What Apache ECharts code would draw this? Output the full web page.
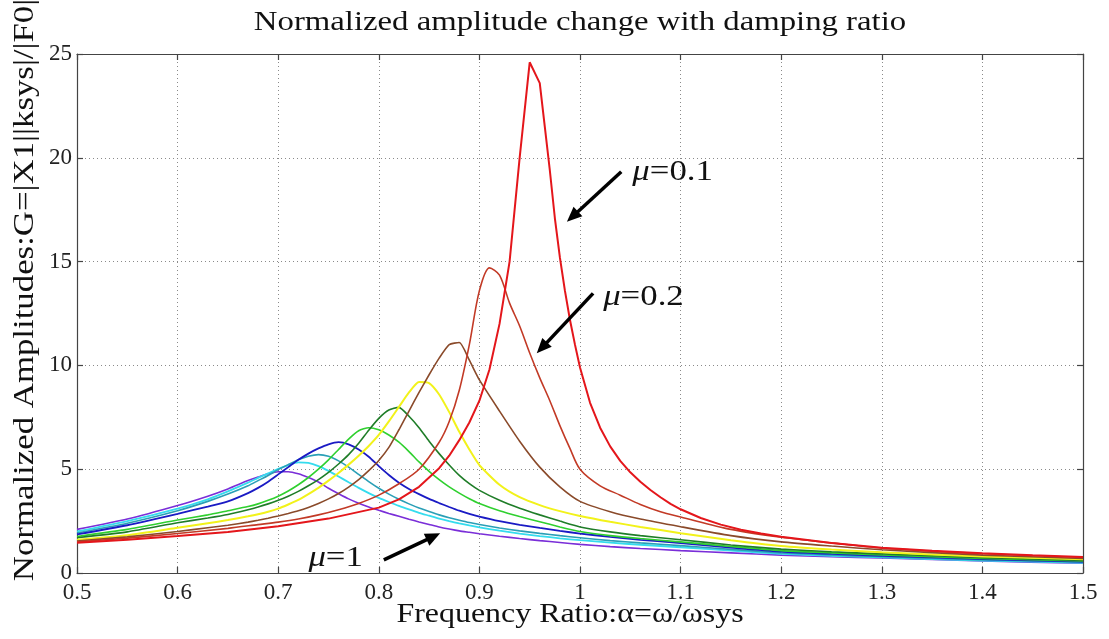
<!DOCTYPE html>
<html><head><meta charset="utf-8">
<script src="https://cdn.jsdelivr.net/npm/echarts@6/dist/echarts.min.js"></script>
<style>html,body{margin:0;padding:0;background:#fff}#c{width:1109px;height:639px}</style>
</head><body><div id="c"></div>
<script>
// Frequency ratio sample points (x values)
const alphaMu01 = [0.5,0.55,0.6,0.65,0.7,0.75,0.8,0.82,0.84,0.86,0.87,0.88,0.89,0.9,0.91,0.92,0.93,0.94,0.95,0.96,0.965,0.97,0.975,0.98,0.985,0.99,0.995,1.0,1.01,1.02,1.03,1.04,1.05,1.06,1.07,1.08,1.09,1.1,1.12,1.14,1.16,1.18,1.2,1.25,1.3,1.35,1.4,1.45,1.5];
const alphaMu02 = [0.5,0.55,0.6,0.65,0.68,0.7,0.72,0.74,0.76,0.78,0.8,0.82,0.84,0.86,0.87,0.88,0.89,0.9,0.91,0.92,0.93,0.94,0.95,0.96,0.97,0.98,0.99,1.0,1.02,1.04,1.06,1.08,1.1,1.15,1.2,1.25,1.3,1.4,1.5];
const alphaOthers = [0.5,0.55,0.6,0.63,0.65,0.67,0.68,0.69,0.7,0.71,0.72,0.73,0.74,0.75,0.76,0.77,0.78,0.79,0.8,0.81,0.82,0.83,0.84,0.85,0.86,0.87,0.88,0.89,0.9,0.92,0.94,0.96,0.98,1.0,1.03,1.06,1.1,1.15,1.2,1.25,1.3,1.4,1.5];

// Normalized amplitude G for each damping ratio mu
const G_mu01 = [1.46,1.6,1.78,1.98,2.25,2.62,3.15,3.55,4.15,5.05,5.65,6.4,7.25,8.3,9.8,12.0,15.0,20.0,24.6,23.6,21.5,19.4,17.1,15.2,13.6,12.2,11.0,9.9,8.2,7.0,6.1,5.4,4.85,4.4,4.0,3.65,3.33,3.07,2.65,2.33,2.08,1.9,1.75,1.45,1.22,1.07,0.95,0.85,0.77];
const G_mu02 = [1.5,1.68,1.9,2.15,2.33,2.45,2.6,2.8,3.05,3.35,3.75,4.3,5.0,6.3,7.3,8.8,11.0,13.6,14.7,14.35,13.0,11.9,10.6,9.4,8.3,7.1,6.0,5.0,4.2,3.75,3.3,2.95,2.7,2.1,1.72,1.45,1.2,0.93,0.75];
const G_mu03 = [1.54,1.74,2.0,2.18,2.3,2.45,2.54,2.64,2.75,2.87,3.0,3.16,3.35,3.57,3.83,4.14,4.5,4.93,5.42,6.05,6.9,7.8,8.7,9.55,10.35,11.0,11.1,10.25,9.3,7.8,6.35,5.1,4.15,3.45,2.95,2.6,2.23,1.8,1.5,1.3,1.12,0.86,0.7];
const G_mu04 = [1.6,1.82,2.18,2.4,2.55,2.73,2.83,2.95,3.1,3.3,3.52,3.8,4.1,4.45,4.82,5.22,5.65,6.12,6.65,7.3,8.0,8.7,9.2,9.15,8.6,7.75,6.8,5.95,5.2,4.25,3.65,3.27,2.98,2.75,2.47,2.22,1.92,1.58,1.3,1.13,1.0,0.8,0.66];
const G_mu05 = [1.7,1.98,2.42,2.65,2.82,3.05,3.18,3.33,3.5,3.7,3.93,4.2,4.5,4.85,5.25,5.7,6.25,6.88,7.45,7.85,7.98,7.55,7.0,6.35,5.75,5.2,4.7,4.3,3.98,3.5,3.12,2.8,2.5,2.22,1.98,1.8,1.6,1.35,1.15,1.02,0.92,0.74,0.61];
const G_mu06 = [1.76,2.1,2.55,2.8,3.0,3.2,3.33,3.5,3.7,3.95,4.25,4.6,5.0,5.45,5.95,6.45,6.85,7.0,6.9,6.65,6.3,5.85,5.35,4.9,4.5,4.15,3.85,3.58,3.35,3.0,2.72,2.47,2.22,2.0,1.8,1.66,1.5,1.28,1.08,0.97,0.87,0.7,0.58];
const G_mu07 = [1.86,2.3,2.85,3.2,3.45,3.85,4.1,4.4,4.75,5.1,5.45,5.75,6.0,6.2,6.3,6.2,5.95,5.6,5.15,4.72,4.35,4.05,3.8,3.57,3.37,3.18,3.0,2.85,2.72,2.5,2.32,2.17,2.03,1.9,1.74,1.6,1.44,1.22,1.03,0.92,0.83,0.67,0.55];
const G_mu08 = [1.93,2.4,3.0,3.45,3.8,4.2,4.45,4.7,4.98,5.22,5.45,5.62,5.7,5.62,5.4,5.1,4.75,4.4,4.08,3.8,3.55,3.33,3.13,2.96,2.8,2.66,2.54,2.43,2.34,2.17,2.03,1.91,1.8,1.7,1.56,1.45,1.32,1.14,0.97,0.87,0.78,0.63,0.52];
const G_mu09 = [2.0,2.5,3.1,3.55,3.93,4.35,4.58,4.8,5.02,5.2,5.33,5.3,5.15,4.92,4.65,4.37,4.1,3.85,3.62,3.42,3.23,3.06,2.9,2.76,2.62,2.5,2.39,2.29,2.2,2.04,1.9,1.78,1.67,1.58,1.46,1.36,1.24,1.08,0.92,0.83,0.75,0.6,0.49];
const G_mu10 = [2.1,2.6,3.25,3.7,4.05,4.45,4.62,4.78,4.88,4.88,4.78,4.6,4.38,4.08,3.82,3.57,3.36,3.18,3.02,2.87,2.73,2.59,2.46,2.34,2.22,2.12,2.03,1.96,1.89,1.77,1.66,1.56,1.47,1.38,1.27,1.18,1.08,0.97,0.86,0.78,0.72,0.58,0.47];

const muNames = ['\u03bc=0.1','\u03bc=0.2','\u03bc=0.3','\u03bc=0.4','\u03bc=0.5','\u03bc=0.6','\u03bc=0.7','\u03bc=0.8','\u03bc=0.9','\u03bc=1'];
const seriesValues = [G_mu01,G_mu02,G_mu03,G_mu04,G_mu05,G_mu06,G_mu07,G_mu08,G_mu09,G_mu10];
const seriesAlpha = [alphaMu01,alphaMu02,alphaOthers,alphaOthers,alphaOthers,alphaOthers,alphaOthers,alphaOthers,alphaOthers,alphaOthers];

// Axis ticks
const xMin = 0.5, xMax = 1.5, xStep = 0.1;
const yMin = 0, yMax = 25, yStep = 5;

// Texts
const titleText = 'Normalized amplitude change with damping ratio';
const xName = 'Frequency Ratio:\u03b1=\u03c9/\u03c9sys';
const yName = 'Normalized Amplitudes:G=|X1||ksys|/|F0|';

// Annotations (data units)
const annotationText = ['0.1','0.2','1'];
const annotationAnchor = [[1.052,19.3],[1.023,13.3],[0.73,0.72]];
const arrowTail = [[1.041,19.33],[1.013,13.47],[0.805,0.63]];
const arrowTip  = [[0.987,16.92],[0.957,10.58],[0.861,1.91]];

// Styles
const colors = ['#e4161b','#c23a26','#8a4a2a','#f2f21a','#1f7d28','#2fd02f','#1a1ac4','#2a9fb6','#35dcee','#7a2ed8'];
const widths = [2,1.6,1.6,2,1.6,1.6,1.8,1.6,1.8,1.6];
const smoothing = [false,0.3,0.2,0.2,0.2,0.2,0.2,0.2,0.2,0.2];

const SERIF = "'Liberation Serif','Times New Roman',serif";
const chart = echarts.init(document.getElementById('c'), null, {renderer:'canvas'});

const axisCommonX = {
  type:'value', min:xMin, max:xMax, interval:xStep,
  axisLine:{show:true, onZero:false, lineStyle:{color:'#444', width:1.2}},
  axisTick:{show:true, inside:true, length:6, lineStyle:{color:'#444', width:1.2}}
};
const axisCommonY = {
  type:'value', min:yMin, max:yMax, interval:yStep,
  axisLine:{show:true, onZero:false, lineStyle:{color:'#444', width:1.2}},
  axisTick:{show:true, inside:true, length:6, lineStyle:{color:'#444', width:1.2}}
};

const option = {
  animation:false,
  backgroundColor:'#fff',
  grid:{left:77, right:26, top:54, bottom:66, containLabel:false},
  xAxis:[
    Object.assign({}, axisCommonX, {
      position:'bottom',
      axisLabel:{fontFamily:SERIF, fontSize:23, color:'#222', margin:8,
        formatter:v=>String(parseFloat(v.toFixed(1)))},
      splitLine:{show:true, lineStyle:{type:[1,3], color:'#8a8a8a', width:1}}
    }),
    Object.assign({}, axisCommonX, {position:'top', axisLabel:{show:false}, splitLine:{show:false}})
  ],
  yAxis:[
    Object.assign({}, axisCommonY, {
      position:'left',
      axisLabel:{fontFamily:SERIF, fontSize:23, color:'#222', margin:5},
      splitLine:{show:true, lineStyle:{type:[1,3], color:'#8a8a8a', width:1}}
    }),
    Object.assign({}, axisCommonY, {position:'right', axisLabel:{show:false}, splitLine:{show:false}})
  ],
  series: seriesValues.map((vals,k)=>({
    name:muNames[k], type:'line', xAxisIndex:0, yAxisIndex:0,
    data:seriesAlpha[k].map((a,i)=>[a, vals[i]]),
    showSymbol:false, symbol:'none', smooth:smoothing[k], clip:true,
    lineStyle:{color:colors[k], width:widths[k]},
    z: 2 + (9-k)
  }))
};
chart.setOption(option);

// Titles (horizontally stretched serif like the reference) and annotations
const g = [];
g.push({type:'text', x:580, y:23, scaleX:1.17, z:60,
  style:{text:titleText, font:"28px "+SERIF, fill:'#111', textAlign:'center', textVerticalAlign:'middle'}});
g.push({type:'text', x:570, y:615, scaleX:1.14, z:60,
  style:{text:xName, font:"28px "+SERIF, fill:'#111', textAlign:'center', textVerticalAlign:'middle'}});
g.push({type:'text', x:25, y:290, rotation:Math.PI/2, scaleX:1.2, z:60,
  style:{text:yName, font:"29px "+SERIF, fill:'#111', textAlign:'center', textVerticalAlign:'middle'}});
for (let i=0;i<arrowTail.length;i++){
  const t = chart.convertToPixel({xAxisIndex:0,yAxisIndex:0}, arrowTail[i]);
  const h = chart.convertToPixel({xAxisIndex:0,yAxisIndex:0}, arrowTip[i]);
  const dx=h[0]-t[0], dy=h[1]-t[1], L=Math.hypot(dx,dy), ux=dx/L, uy=dy/L;
  const hl=15, hw=6.5;
  const bx=h[0]-ux*hl, by=h[1]-uy*hl;
  g.push({type:'line', shape:{x1:t[0],y1:t[1],x2:bx+ux*2,y2:by+uy*2}, style:{stroke:'#000', lineWidth:3.5}, z:50});
  g.push({type:'polygon', shape:{points:[[h[0],h[1]],[bx-uy*hw,by+ux*hw],[bx+uy*hw,by-ux*hw]]}, style:{fill:'#000'}, z:50});
  const p = chart.convertToPixel({xAxisIndex:0,yAxisIndex:0}, annotationAnchor[i]);
  g.push({type:'text', x:p[0], y:p[1], scaleX:1.2, z:50,
    style:{text:'{m|\u03bc}=' + annotationText[i], font:"29px "+SERIF, fill:'#111', textAlign:'left', textVerticalAlign:'middle',
      rich:{m:{fontFamily:SERIF, fontSize:29, fontStyle:'italic', fill:'#111'}}}});
}
chart.setOption({graphic:g});
</script>
</body></html>
